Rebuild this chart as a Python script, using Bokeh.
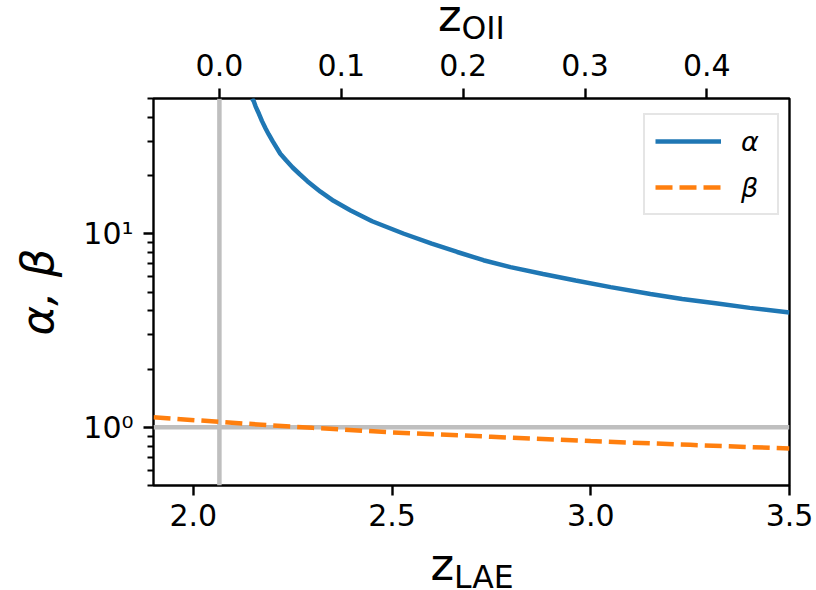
from bokeh.plotting import figure
from bokeh.layouts import column
from bokeh.models import (Range1d, LinearAxis, FixedTicker, Span, Legend,
                          LegendItem, NumeralTickFormatter)
from bokeh.core.properties import value
from bokeh.embed import file_html
from bokeh.resources import INLINE

# ---- data ----
z_alpha = [2.148, 2.152, 2.157, 2.165, 2.173, 2.182, 2.190, 2.200, 2.219, 2.234,
           2.250, 2.268, 2.287, 2.320, 2.353, 2.396, 2.450, 2.530, 2.600, 2.664,
           2.730, 2.798, 2.880, 2.962, 3.050, 3.150, 3.230, 3.314, 3.400, 3.500]
alpha = [50.0, 48.5, 45.4, 41.8, 38.2, 35.0, 32.6, 30.0, 25.9, 23.9,
         22.0, 20.3, 18.7, 16.5, 14.8, 13.2, 11.6, 10.0, 8.9, 8.05,
         7.3, 6.72, 6.20, 5.73, 5.30, 4.88, 4.60, 4.37, 4.14, 3.92]

z_beta = [1.90, 2.07, 2.20, 2.30, 2.50, 2.75, 3.00, 3.25, 3.50]
beta = [1.125, 1.065, 1.022, 0.993, 0.94, 0.893, 0.848, 0.811, 0.776]

x_ticks = [2.0, 2.5, 3.0, 3.5]
top_ticks = [0.0, 0.1, 0.2, 0.3, 0.4]
y_major = [1, 10]
y_major_labels = {1: "10⁰", 10: "10¹"}
y_minor = [0.5, 0.6, 0.7, 0.8, 0.9, 2, 3, 4, 5, 6, 7, 8, 9, 20, 30, 40, 50]

LYA = 1215.67
OII = 3727.0
x_lim = (1.9, 3.5)
y_lim = (0.5, 50)


def z_oii(z_lae):
    return (1 + z_lae) * LYA / OII - 1


z_lae_at_oii0 = OII / LYA - 1

FONT = "DejaVu Sans"
W = 816
TOP_H = 39          # strip holding the upper axis title
BOT_H = 50          # strip holding the lower axis title
MAIN_H = 590 - TOP_H - BOT_H
MID = 0.346         # baseline sits this many ems below the middle of the text box


def title_strip(height, y0):
    """A blank strip whose data coordinates equal page pixels (y downwards)."""
    f = figure(width=W, height=height, x_range=Range1d(0, W),
               y_range=Range1d(y0 + height, y0), output_backend="svg",
               toolbar_location=None, min_border=0, frame_align=False,
               x_axis_location=None, y_axis_location=None)
    f.outline_line_color = None
    f.background_fill_color = "white"
    f.border_fill_color = "white"
    f.grid.visible = False
    return f


def axis_title(f, x, baseline, txt, size_px):
    f.text(x=[x], y=[baseline - MID * size_px], text=[txt], text_font=value(FONT),
           text_font_size=value(f"{size_px}px"), text_baseline=value("middle"),
           text_align=value("left"), text_color="black")


# ---- main plot ----
p = figure(width=W, height=MAIN_H,
           x_range=Range1d(*x_lim), y_range=Range1d(*y_lim),
           y_axis_type="log", output_backend="svg", toolbar_location=None,
           frame_align=False,
           min_border_left=153, min_border_right=27,
           min_border_top=98 - TOP_H, min_border_bottom=105 - BOT_H)
p.background_fill_color = "white"
p.border_fill_color = "white"
p.outline_line_color = "black"
p.outline_line_width = 2.4
p.grid.visible = False

p.extra_x_ranges = {"top": Range1d(z_oii(x_lim[0]), z_oii(x_lim[1]))}
top_axis = LinearAxis(x_range_name="top")
p.add_layout(top_axis, "above")

# reference lines
p.add_layout(Span(location=1.0, dimension="width", line_color="#bfbfbf",
                  line_width=4.5, level="underlay"))
p.add_layout(Span(location=z_lae_at_oii0, dimension="height", line_color="#bfbfbf",
                  line_width=4.5, level="underlay"))

r_a = p.line(z_alpha, alpha, line_color="#1f77b4", line_width=4.5)
r_b = p.line(z_beta, beta, line_color="#ff7f0e", line_width=4.5, line_dash="17 7")

xa = p.below[0]
ya = p.left[0]
xa.ticker = FixedTicker(ticks=x_ticks, minor_ticks=[])
xa.formatter = NumeralTickFormatter(format="0.0")
top_axis.ticker = FixedTicker(ticks=top_ticks, minor_ticks=[])
top_axis.formatter = NumeralTickFormatter(format="0.0")
ya.ticker = FixedTicker(ticks=y_major, minor_ticks=y_minor)
ya.major_label_overrides = y_major_labels

for ax in (xa, ya, top_axis):
    ax.axis_line_color = None
    ax.major_tick_in = 0
    ax.major_tick_out = 10
    ax.major_tick_line_width = 2.4
    ax.minor_tick_in = 0
    ax.minor_tick_out = 6
    ax.minor_tick_line_width = 1.8
    ax.major_label_text_font = FONT
    ax.major_label_text_font_size = "30px"
    ax.major_label_text_color = "black"

xa.major_label_standoff = 8
top_axis.major_label_standoff = 13
ya.major_label_standoff = 10

ya.axis_label = "α, β"
ya.axis_label_text_font = FONT
ya.axis_label_text_font_size = "45px"
ya.axis_label_text_font_style = "italic"
ya.axis_label_standoff = 16
ya.axis_label_text_color = "black"

legend = Legend(items=[LegendItem(label="α", renderers=[r_a]),
                       LegendItem(label="β", renderers=[r_b])],
                location=(490, 270))
legend.border_line_color = "#cccccc"
legend.border_line_width = 2.4
legend.background_fill_alpha = 0.8
legend.padding = 10
legend.spacing = 14
legend.margin = 0
legend.glyph_width = 66
legend.glyph_height = 32
legend.label_height = 32
legend.label_standoff = 20
legend.label_width = 26
legend.label_text_font = FONT
legend.label_text_font_size = "27px"
legend.label_text_font_style = "italic"
legend.label_text_color = "black"
p.add_layout(legend)

# ---- axis titles with subscripts ----
top_strip = title_strip(TOP_H, 0)
axis_title(top_strip, 437.5, 30.5, "z", 45)
axis_title(top_strip, 461.0, 38.5, "OII", 31.5)

bot_strip = title_strip(BOT_H, 590 - BOT_H)
axis_title(bot_strip, 430.0, 580, "z", 45)
axis_title(bot_strip, 453.5, 587, "LAE", 31.5)

layout = column(top_strip, p, bot_strip, spacing=0)
open("out.html", "w").write(file_html(layout, INLINE))
